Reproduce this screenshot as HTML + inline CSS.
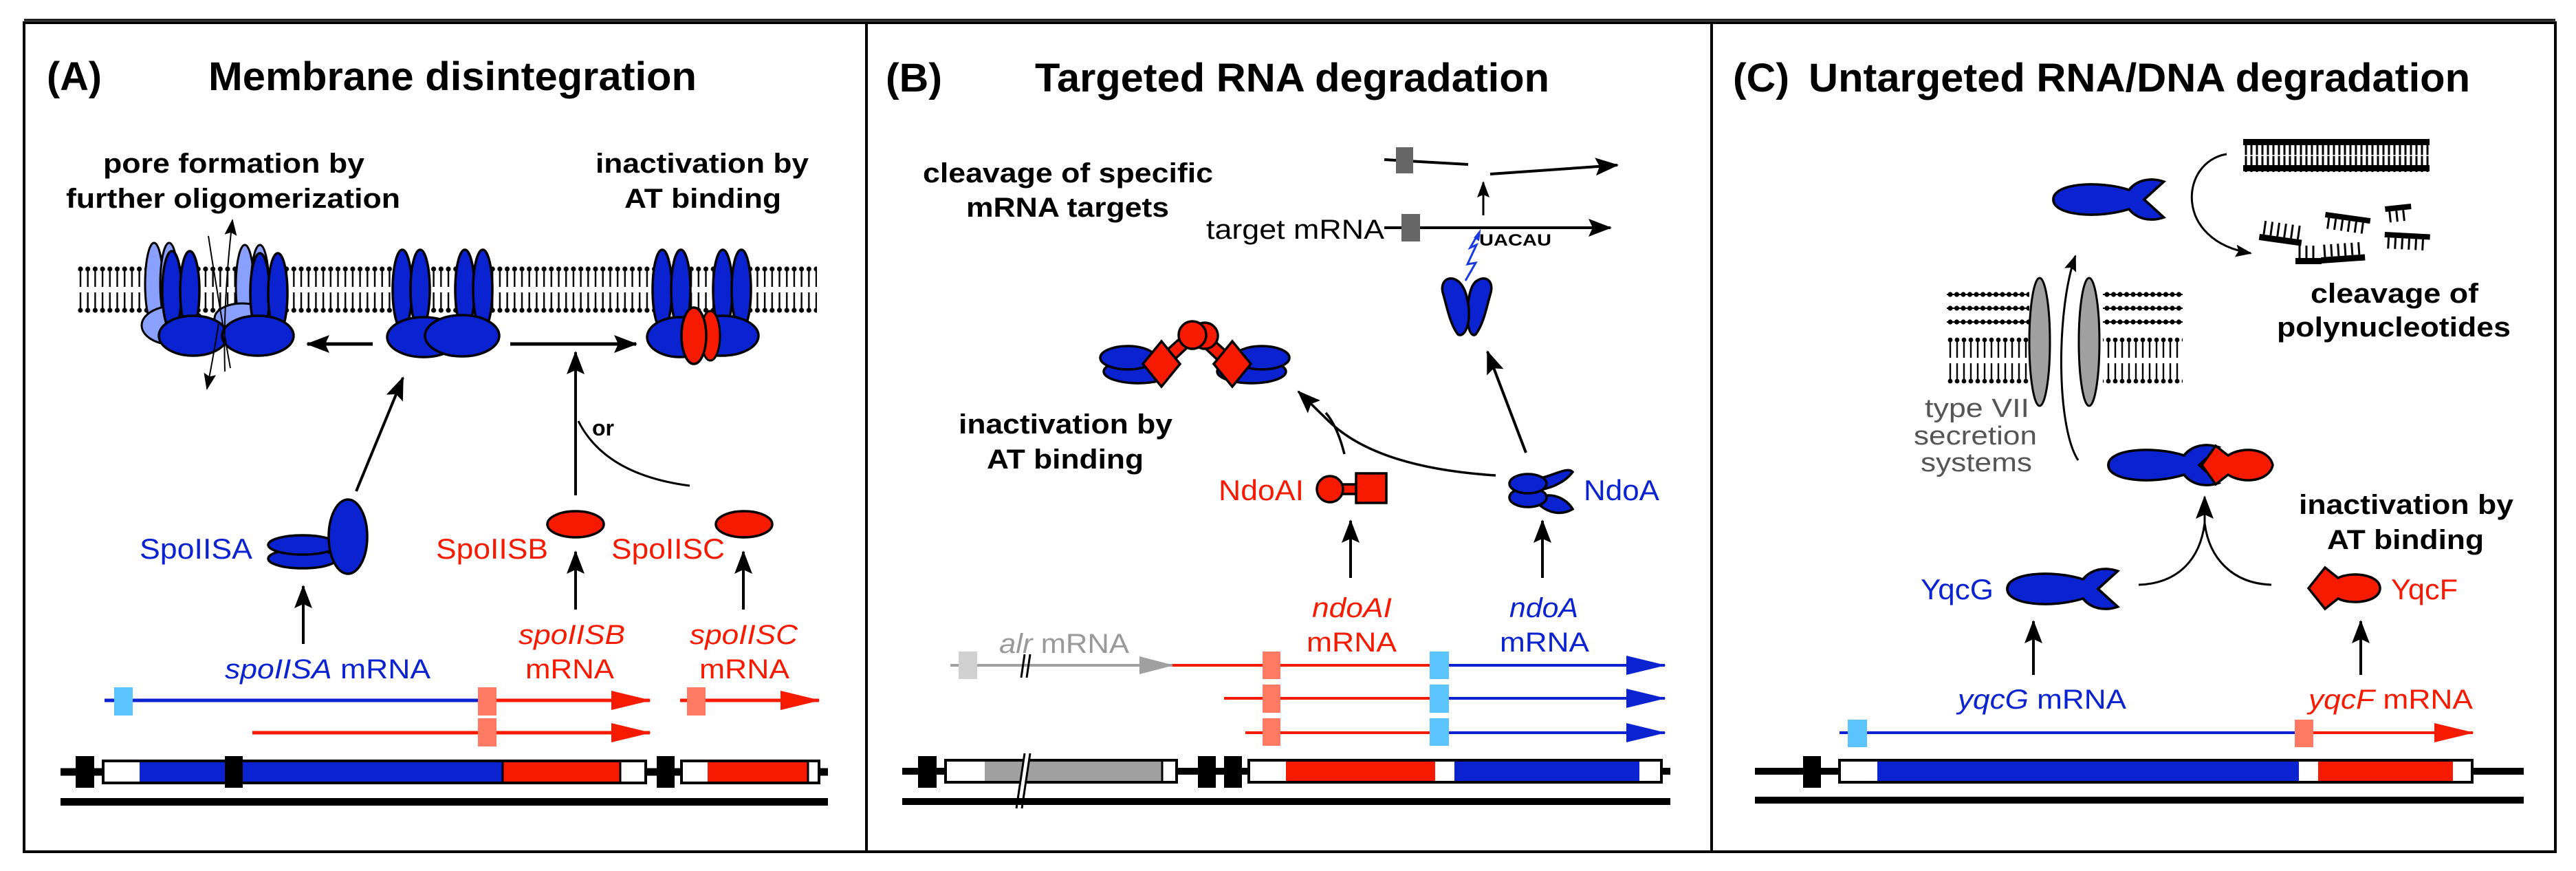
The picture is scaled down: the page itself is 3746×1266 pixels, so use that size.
<!DOCTYPE html>
<html><head><meta charset="utf-8"><style>
html,body{margin:0;padding:0;background:#fff;}
svg{display:block;}
text{font-family:"Liberation Sans",sans-serif;}
</style></head><body>
<svg width="3746" height="1266" viewBox="0 0 3746 1266" xmlns="http://www.w3.org/2000/svg">
<defs>
<marker id="ah" markerUnits="userSpaceOnUse" markerWidth="34" markerHeight="26" refX="32" refY="13" orient="auto"><path d="M0,0 L34,13 L0,26 L6,13 Z" fill="#000"/></marker>
<marker id="ahs" markerUnits="userSpaceOnUse" markerWidth="24" markerHeight="18" refX="22" refY="9" orient="auto"><path d="M0,0 L24,9 L0,18 L4,9 Z" fill="#000"/></marker>
<marker id="ahr" markerUnits="userSpaceOnUse" markerWidth="58" markerHeight="28" refX="56" refY="14" orient="auto"><path d="M0,0 L58,14 L0,28 Z" fill="#f51a00"/></marker>
<marker id="ahb" markerUnits="userSpaceOnUse" markerWidth="58" markerHeight="28" refX="56" refY="14" orient="auto"><path d="M0,0 L58,14 L0,28 Z" fill="#0a22d0"/></marker>
<marker id="ahg" markerUnits="userSpaceOnUse" markerWidth="50" markerHeight="26" refX="48" refY="13" orient="auto"><path d="M0,0 L50,13 L0,26 Z" fill="#a0a0a0"/></marker>
<pattern id="lip" patternUnits="userSpaceOnUse" x="112" y="387" width="10.7" height="68">
<line x1="5" y1="4" x2="5" y2="30" stroke="#000" stroke-width="2.4"/><line x1="5" y1="38" x2="5" y2="64" stroke="#000" stroke-width="2.4"/>
<circle cx="5" cy="4" r="3.6"/><circle cx="5" cy="64" r="3.6"/></pattern>
<pattern id="lipc" patternUnits="userSpaceOnUse" x="2831" y="490" width="10" height="68">
<line x1="5" y1="4" x2="5" y2="30" stroke="#000" stroke-width="2.4"/><line x1="5" y1="38" x2="5" y2="64" stroke="#000" stroke-width="2.4"/>
<circle cx="5" cy="4" r="3.4"/><circle cx="5" cy="64" r="3.4"/></pattern>
<pattern id="lps" patternUnits="userSpaceOnUse" x="2831" y="420" width="9.5" height="60">
<circle cx="5" cy="8" r="3.6"/><circle cx="5" cy="28" r="3.6"/><circle cx="5" cy="48" r="3.6"/>
<line x1="0" y1="8" x2="10" y2="8" stroke="#000" stroke-width="2"/><line x1="0" y1="28" x2="10" y2="28" stroke="#000" stroke-width="2"/><line x1="0" y1="48" x2="10" y2="48" stroke="#000" stroke-width="2"/></pattern>
<pattern id="dna" patternUnits="userSpaceOnUse" x="3262" y="202" width="8" height="48">
<line x1="4" y1="0" x2="4" y2="48" stroke="#000" stroke-width="3"/></pattern>
<g id="fish"><path d="M0,0 C0,-24 60,-28 100,-14 C110,-28 128,-33 146,-26 L120,0 L146,26 C128,33 110,28 100,14 C60,28 0,24 0,0 Z" fill="#0a22d0" stroke="#000" stroke-width="3.5"/></g>
</defs>

<!-- frame -->
<rect x="35" y="33" width="3681" height="1205" fill="none" stroke="#000" stroke-width="4"/>
<line x1="35" y1="29" x2="3716" y2="29" stroke="#000" stroke-width="3"/>
<line x1="1260" y1="33" x2="1260" y2="1238" stroke="#000" stroke-width="4"/>
<line x1="2489" y1="33" x2="2489" y2="1238" stroke="#000" stroke-width="4"/>

<!-- ===== PANEL A ===== -->
<text x="68" y="131" font-size="58" font-weight="bold" textLength="80" lengthAdjust="spacingAndGlyphs">(A)</text>
<text x="303" y="131" font-size="58" font-weight="bold" textLength="710" lengthAdjust="spacingAndGlyphs">Membrane disintegration</text>
<text x="150" y="251" font-size="40" font-weight="bold" textLength="380" lengthAdjust="spacingAndGlyphs">pore formation by</text>
<text x="96" y="302" font-size="40" font-weight="bold" textLength="486" lengthAdjust="spacingAndGlyphs">further oligomerization</text>
<text x="866" y="251" font-size="40" font-weight="bold" textLength="310" lengthAdjust="spacingAndGlyphs">inactivation by</text>
<text x="908" y="302" font-size="40" font-weight="bold" textLength="228" lengthAdjust="spacingAndGlyphs">AT binding</text>

<rect x="112" y="387" width="1076" height="68" fill="url(#lip)"/>
<!-- pore complex -->
<g fill="#8aa0ff" stroke="#000" stroke-width="3">
<ellipse cx="224" cy="413" rx="13" ry="60"/><ellipse cx="246" cy="413" rx="13" ry="60"/>
<ellipse cx="356" cy="416" rx="13" ry="60"/><ellipse cx="378" cy="416" rx="13" ry="60"/>
<ellipse cx="252" cy="473" rx="46" ry="28"/><ellipse cx="352" cy="463" rx="40" ry="22"/>
</g>
<g fill="#0a22d0" stroke="#000" stroke-width="3.5">
<ellipse cx="250" cy="423" rx="14" ry="58"/><ellipse cx="276" cy="423" rx="14" ry="58"/>
<ellipse cx="378" cy="426" rx="14" ry="58"/><ellipse cx="404" cy="426" rx="14" ry="58"/>
<ellipse cx="281" cy="488" rx="50" ry="29"/><ellipse cx="375" cy="488" rx="52" ry="29"/>
</g>
<path d="M303,343 Q318,440 335,535" fill="none" stroke="#000" stroke-width="2"/>
<path d="M327,540 Q324,440 338,320" fill="none" stroke="#000" stroke-width="2" marker-end="url(#ahs)"/>
<path d="M318,470 Q310,520 301,565" fill="none" stroke="#000" stroke-width="2" marker-end="url(#ahs)"/>
<!-- middle dimer -->
<g fill="#0a22d0" stroke="#000" stroke-width="3.5">
<ellipse cx="585" cy="421" rx="14" ry="58"/><ellipse cx="611" cy="421" rx="14" ry="58"/>
<ellipse cx="676" cy="421" rx="14" ry="58"/><ellipse cx="702" cy="421" rx="14" ry="58"/>
<ellipse cx="616" cy="490" rx="53" ry="29"/><ellipse cx="672" cy="488" rx="54" ry="30"/>
</g>
<!-- inactivated dimer -->
<g fill="#0a22d0" stroke="#000" stroke-width="3.5">
<ellipse cx="963" cy="421" rx="14" ry="58"/><ellipse cx="990" cy="421" rx="14" ry="58"/>
<ellipse cx="1051" cy="421" rx="14" ry="58"/><ellipse cx="1078" cy="421" rx="14" ry="58"/>
<ellipse cx="989" cy="490" rx="48" ry="29"/><ellipse cx="1050" cy="488" rx="53" ry="29"/>
</g>
<ellipse cx="1033" cy="488" rx="14" ry="36" fill="#f51a00" stroke="#000" stroke-width="3"/>
<ellipse cx="1009" cy="488" rx="18" ry="41" fill="#f51a00" stroke="#000" stroke-width="3.5"/>
<line x1="542" y1="500" x2="447" y2="500" stroke="#000" stroke-width="5" marker-end="url(#ah)"/>
<line x1="742" y1="500" x2="925" y2="500" stroke="#000" stroke-width="5" marker-end="url(#ah)"/>
<line x1="518" y1="714" x2="586" y2="549" stroke="#000" stroke-width="4" marker-end="url(#ah)"/>
<line x1="837" y1="720" x2="837" y2="512" stroke="#000" stroke-width="4" marker-end="url(#ah)"/>
<path d="M841,612 Q880,690 1003,706" fill="none" stroke="#000" stroke-width="3"/>
<text x="861" y="633" font-size="32" font-weight="bold">or</text>
<!-- proteins -->
<g fill="#0a22d0" stroke="#000" stroke-width="3.5">
<ellipse cx="440" cy="812" rx="50" ry="14"/><ellipse cx="440" cy="792" rx="50" ry="14"/>
<ellipse cx="506" cy="780" rx="28" ry="54"/>
</g>
<text x="203" y="812" font-size="42" fill="#0a22d0" textLength="164" lengthAdjust="spacingAndGlyphs">SpoIISA</text>
<ellipse cx="837" cy="762" rx="41" ry="19" fill="#f51a00" stroke="#000" stroke-width="3.5"/>
<ellipse cx="1082" cy="762" rx="41" ry="19" fill="#f51a00" stroke="#000" stroke-width="3.5"/>
<text x="634" y="812" font-size="42" fill="#f51a00" textLength="163" lengthAdjust="spacingAndGlyphs">SpoIISB</text>
<text x="889" y="812" font-size="42" fill="#f51a00" textLength="165" lengthAdjust="spacingAndGlyphs">SpoIISC</text>
<line x1="441" y1="936" x2="441" y2="852" stroke="#000" stroke-width="4" marker-end="url(#ah)"/>
<line x1="837" y1="886" x2="837" y2="802" stroke="#000" stroke-width="4" marker-end="url(#ah)"/>
<line x1="1081" y1="886" x2="1081" y2="802" stroke="#000" stroke-width="4" marker-end="url(#ah)"/>
<text x="327" y="986" font-size="40" fill="#0a22d0" textLength="299" lengthAdjust="spacingAndGlyphs"><tspan font-style="italic">spoIISA</tspan> mRNA</text>
<text x="754" y="936" font-size="40" fill="#f51a00" font-style="italic" textLength="155" lengthAdjust="spacingAndGlyphs">spoIISB</text>
<text x="764" y="986" font-size="40" fill="#f51a00" textLength="129" lengthAdjust="spacingAndGlyphs">mRNA</text>
<text x="1003" y="936" font-size="40" fill="#f51a00" font-style="italic" textLength="157" lengthAdjust="spacingAndGlyphs">spoIISC</text>
<text x="1017" y="986" font-size="40" fill="#f51a00" textLength="131" lengthAdjust="spacingAndGlyphs">mRNA</text>
<!-- transcripts -->
<line x1="152" y1="1018" x2="698" y2="1018" stroke="#0a22d0" stroke-width="5"/>
<line x1="722" y1="1018" x2="945" y2="1018" stroke="#f51a00" stroke-width="5" marker-end="url(#ahr)"/>
<line x1="367" y1="1065" x2="945" y2="1065" stroke="#f51a00" stroke-width="5" marker-end="url(#ahr)"/>
<line x1="989" y1="1018" x2="1191" y2="1018" stroke="#f51a00" stroke-width="5" marker-end="url(#ahr)"/>
<rect x="166" y="999" width="27" height="41" fill="#5bc4ff"/>
<rect x="695" y="999" width="27" height="41" fill="#ff7a62"/>
<rect x="695" y="1044" width="27" height="41" fill="#ff7a62"/>
<rect x="999" y="999" width="27" height="41" fill="#ff7a62"/>
<!-- gene -->
<line x1="88" y1="1122" x2="1204" y2="1122" stroke="#000" stroke-width="11"/>
<rect x="150" y="1106" width="789" height="32" fill="#fff" stroke="#000" stroke-width="4"/>
<rect x="203" y="1108" width="527" height="28" fill="#0a22d0"/>
<rect x="732" y="1108" width="169" height="28" fill="#f51a00"/>
<line x1="731" y1="1106" x2="731" y2="1138" stroke="#000" stroke-width="3"/>
<line x1="902" y1="1106" x2="902" y2="1138" stroke="#000" stroke-width="3"/>
<rect x="991" y="1106" width="200" height="32" fill="#fff" stroke="#000" stroke-width="4"/>
<rect x="1029" y="1108" width="145" height="28" fill="#f51a00"/>
<line x1="1175" y1="1106" x2="1175" y2="1138" stroke="#000" stroke-width="3"/>
<rect x="110" y="1099" width="27" height="46"/>
<rect x="327" y="1099" width="26" height="46"/>
<rect x="955" y="1099" width="26" height="46"/>
<rect x="88" y="1160" width="1116" height="11"/>

<!-- ===== PANEL B ===== -->
<text x="1288" y="133" font-size="58" font-weight="bold" textLength="82" lengthAdjust="spacingAndGlyphs">(B)</text>
<text x="1505" y="133" font-size="58" font-weight="bold" textLength="748" lengthAdjust="spacingAndGlyphs">Targeted RNA degradation</text>
<text x="1342" y="265" font-size="40" font-weight="bold" textLength="422" lengthAdjust="spacingAndGlyphs">cleavage of specific</text>
<text x="1405" y="315" font-size="40" font-weight="bold" textLength="295" lengthAdjust="spacingAndGlyphs">mRNA targets</text>
<text x="1754" y="347" font-size="40" textLength="259" lengthAdjust="spacingAndGlyphs">target mRNA</text>
<line x1="2013" y1="331" x2="2342" y2="331" stroke="#000" stroke-width="4" marker-end="url(#ah)"/>
<rect x="2038" y="311" width="27" height="40" fill="#666"/>
<text x="2151" y="357" font-size="24" font-weight="bold" textLength="105" lengthAdjust="spacingAndGlyphs">UACAU</text>
<line x1="2013" y1="232" x2="2135" y2="239" stroke="#000" stroke-width="4"/>
<rect x="2030" y="214" width="25" height="38" fill="#666"/>
<line x1="2167" y1="253" x2="2352" y2="240" stroke="#000" stroke-width="4" marker-end="url(#ah)"/>
<line x1="2157" y1="313" x2="2157" y2="265" stroke="#000" stroke-width="3" marker-end="url(#ahs)"/>
<path d="M2131,408 L2146,382 L2134,384 L2147,356 L2138,360 L2150,339" fill="none" stroke="#1a3ae0" stroke-width="3"/>
<path d="M2144,346 L2152,336 L2150,350" fill="#1a3ae0" stroke="#1a3ae0" stroke-width="2"/>
<!-- NdoA V dimer -->
<g fill="#0a22d0" stroke="#000" stroke-width="3.5">
<path d="M2145,410 C2160,398 2172,408 2168,425 C2162,445 2158,470 2146,486 C2138,492 2132,470 2134,450 C2136,430 2138,418 2145,410 Z"/>
<path d="M2122,410 C2108,398 2094,408 2098,425 C2104,445 2108,470 2120,486 C2130,492 2138,470 2136,450 C2134,430 2130,418 2122,410 Z"/>
</g>
<!-- inactivated complex -->
<g fill="#0a22d0" stroke="#000" stroke-width="3.5">
<ellipse cx="1655" cy="540" rx="50" ry="17"/><ellipse cx="1640" cy="520" rx="40" ry="17"/>
<ellipse cx="1820" cy="540" rx="50" ry="17"/><ellipse cx="1835" cy="520" rx="40" ry="17"/>
</g>
<g stroke="#000" stroke-width="3.5" fill="#f51a00">
<path d="M1718,490 L1690,515 L1700,530 L1732,500 Z"/>
<path d="M1760,490 L1788,515 L1778,530 L1746,500 Z"/>
<circle cx="1752" cy="488" r="19"/><circle cx="1734" cy="487" r="20"/>
<path d="M1689,496 L1716,529 L1689,562 L1662,529 Z"/>
<path d="M1792,496 L1819,529 L1792,562 L1765,529 Z"/>
</g>
<text x="1394" y="630" font-size="40" font-weight="bold" textLength="311" lengthAdjust="spacingAndGlyphs">inactivation by</text>
<text x="1435" y="681" font-size="40" font-weight="bold" textLength="228" lengthAdjust="spacingAndGlyphs">AT binding</text>
<line x1="2219" y1="658" x2="2163" y2="511" stroke="#000" stroke-width="4" marker-end="url(#ah)"/>
<path d="M1955,660 Q1945,620 1928,600" fill="none" stroke="#000" stroke-width="3.5"/>
<path d="M2175,691 Q2000,680 1930,610 L1888,569" fill="none" stroke="#000" stroke-width="3.5" marker-end="url(#ah)"/>
<text x="1772" y="727" font-size="42" fill="#f51a00" textLength="124" lengthAdjust="spacingAndGlyphs">NdoAI</text>
<g stroke="#000" stroke-width="3.5" fill="#f51a00">
<rect x="1948" y="704" width="28" height="14"/>
<circle cx="1934" cy="711" r="19"/>
<rect x="1972" y="688" width="44" height="43"/>
</g>
<g fill="#0a22d0" stroke="#000" stroke-width="3.5">
<path d="M2240,722 C2262,715 2280,728 2287,740 C2270,750 2252,745 2240,735 Z"/>
<path d="M2240,695 C2262,690 2280,678 2287,686 C2278,698 2262,708 2240,712 Z"/>
<ellipse cx="2222" cy="723" rx="27" ry="14"/><ellipse cx="2222" cy="703" rx="27" ry="14"/>
</g>
<text x="2303" y="727" font-size="42" fill="#0a22d0" textLength="110" lengthAdjust="spacingAndGlyphs">NdoA</text>
<line x1="1964" y1="840" x2="1964" y2="757" stroke="#000" stroke-width="4" marker-end="url(#ah)"/>
<line x1="2243" y1="840" x2="2243" y2="757" stroke="#000" stroke-width="4" marker-end="url(#ah)"/>
<text x="1908" y="897" font-size="40" fill="#f51a00" font-style="italic" textLength="116" lengthAdjust="spacingAndGlyphs">ndoAI</text>
<text x="1900" y="947" font-size="40" fill="#f51a00" textLength="131" lengthAdjust="spacingAndGlyphs">mRNA</text>
<text x="2195" y="897" font-size="40" fill="#0a22d0" font-style="italic" textLength="100" lengthAdjust="spacingAndGlyphs">ndoA</text>
<text x="2181" y="947" font-size="40" fill="#0a22d0" textLength="130" lengthAdjust="spacingAndGlyphs">mRNA</text>
<text x="1453" y="949" font-size="40" fill="#999" textLength="189" lengthAdjust="spacingAndGlyphs"><tspan font-style="italic">alr</tspan> mRNA</text>
<line x1="1382" y1="967" x2="1705" y2="967" stroke="#a0a0a0" stroke-width="4" marker-end="url(#ahg)"/>
<rect x="1394" y="947" width="27" height="40" fill="#d0d0d0"/>
<line x1="1485" y1="985" x2="1490" y2="951" stroke="#000" stroke-width="3"/>
<line x1="1493" y1="985" x2="1498" y2="951" stroke="#000" stroke-width="3"/>
<line x1="1705" y1="967" x2="2080" y2="967" stroke="#f51a00" stroke-width="4"/>
<line x1="2107" y1="967" x2="2421" y2="967" stroke="#0a22d0" stroke-width="4" marker-end="url(#ahb)"/>
<line x1="1780" y1="1015" x2="2080" y2="1015" stroke="#f51a00" stroke-width="4"/>
<line x1="2107" y1="1015" x2="2421" y2="1015" stroke="#0a22d0" stroke-width="4" marker-end="url(#ahb)"/>
<line x1="1811" y1="1065" x2="2080" y2="1065" stroke="#f51a00" stroke-width="4"/>
<line x1="2107" y1="1065" x2="2421" y2="1065" stroke="#0a22d0" stroke-width="4" marker-end="url(#ahb)"/>
<rect x="1836" y="947" width="26" height="40" fill="#ff7a62"/>
<rect x="1836" y="995" width="26" height="41" fill="#ff7a62"/>
<rect x="1836" y="1044" width="26" height="40" fill="#ff7a62"/>
<rect x="2079" y="947" width="28" height="40" fill="#5bc4ff"/>
<rect x="2079" y="995" width="28" height="41" fill="#5bc4ff"/>
<rect x="2079" y="1044" width="28" height="40" fill="#5bc4ff"/>
<line x1="1312" y1="1121" x2="2429" y2="1121" stroke="#000" stroke-width="10"/>
<rect x="1375" y="1105" width="336" height="32" fill="#fff" stroke="#000" stroke-width="4"/>
<rect x="1432" y="1107" width="257" height="28" fill="#a0a0a0"/>
<line x1="1690" y1="1105" x2="1690" y2="1137" stroke="#000" stroke-width="3"/>
<polygon points="1490,1095 1498,1095 1486,1175 1478,1175" fill="#fff"/>
<line x1="1490" y1="1095" x2="1478" y2="1175" stroke="#000" stroke-width="3"/>
<line x1="1498" y1="1095" x2="1486" y2="1175" stroke="#000" stroke-width="3"/>
<rect x="1816" y="1105" width="600" height="32" fill="#fff" stroke="#000" stroke-width="4"/>
<rect x="1870" y="1107" width="217" height="28" fill="#f51a00"/>
<rect x="2115" y="1107" width="269" height="28" fill="#0a22d0"/>
<rect x="1335" y="1099" width="27" height="46"/>
<rect x="1742" y="1099" width="26" height="46"/>
<rect x="1780" y="1099" width="26" height="46"/>
<rect x="1312" y="1160" width="1117" height="10"/>

<!-- ===== PANEL C ===== -->
<text x="2520" y="133" font-size="58" font-weight="bold" textLength="82" lengthAdjust="spacingAndGlyphs">(C)</text>
<text x="2630" y="133" font-size="58" font-weight="bold" textLength="962" lengthAdjust="spacingAndGlyphs">Untargeted RNA/DNA degradation</text>
<!-- DNA -->
<rect x="3262" y="202" width="271" height="48" fill="url(#dna)"/>
<rect x="3262" y="202" width="271" height="9"/><rect x="3262" y="240" width="271" height="9"/>
<line x1="3262" y1="226" x2="3533" y2="226" stroke="#fff" stroke-width="1.5"/>
<!-- fragments -->
<g stroke="#000" stroke-width="3">
<g transform="translate(3286,340) rotate(8)"><rect x="0" y="0" width="62" height="9" stroke="none"/><path d="M6,0V-20M16,0V-20M26,0V-20M36,0V-20M46,0V-20M56,0V-20"/></g>
<g transform="translate(3338,375)"><rect x="0" y="0" width="38" height="9" stroke="none"/><path d="M6,0V-18M16,0V-18M26,0V-18"/></g>
<g transform="translate(3375,374) rotate(-4)"><rect x="0" y="0" width="64" height="9" stroke="none"/><path d="M6,0V-18M16,0V-18M26,0V-18M36,0V-18M46,0V-18M56,0V-18"/></g>
<g transform="translate(3382,308) rotate(8)"><rect x="0" y="0" width="66" height="8" stroke="none"/><path d="M6,8V24M16,8V24M26,8V24M36,8V24M46,8V24M56,8V24"/></g>
<g transform="translate(3468,300) rotate(-6)"><rect x="0" y="0" width="38" height="8" stroke="none"/><path d="M6,8V24M16,8V24M26,8V24"/></g>
<g transform="translate(3468,337) rotate(3)"><rect x="0" y="0" width="66" height="8" stroke="none"/><path d="M6,8V24M16,8V24M26,8V24M36,8V24M46,8V24M56,8V24"/></g>
</g>
<path d="M3238,224 C3170,235 3160,350 3273,368" fill="none" stroke="#000" stroke-width="3" marker-end="url(#ahs)"/>
<text x="3360" y="440" font-size="40" font-weight="bold" textLength="244" lengthAdjust="spacingAndGlyphs">cleavage of</text>
<text x="3311" y="489" font-size="40" font-weight="bold" textLength="340" lengthAdjust="spacingAndGlyphs">polynucleotides</text>
<use href="#fish" transform="translate(2986,290) scale(1.1,1)"/>
<!-- membranes -->
<rect x="2831" y="420" width="120" height="60" fill="url(#lps)"/>
<rect x="2831" y="490" width="120" height="68" fill="url(#lipc)"/>
<rect x="3058" y="420" width="116" height="60" fill="url(#lps)"/>
<rect x="3058" y="490" width="116" height="68" fill="url(#lipc)"/>
<ellipse cx="2966" cy="497" rx="15" ry="93" fill="#a0a0a0" stroke="#000" stroke-width="3"/>
<ellipse cx="3038" cy="497" rx="15" ry="93" fill="#a0a0a0" stroke="#000" stroke-width="3"/>
<path d="M3022,669 C2990,620 2990,450 3018,372" fill="none" stroke="#000" stroke-width="3" marker-end="url(#ahs)"/>
<text x="2799" y="606" font-size="38" fill="#555" textLength="152" lengthAdjust="spacingAndGlyphs">type VII</text>
<text x="2783" y="646" font-size="38" fill="#555" textLength="179" lengthAdjust="spacingAndGlyphs">secretion</text>
<text x="2793" y="685" font-size="38" fill="#555" textLength="162" lengthAdjust="spacingAndGlyphs">systems</text>
<!-- complex -->
<use href="#fish" transform="translate(3066,676) scale(1.1,1)"/>
<path d="M3202,676 L3222,648 L3240,662 C3262,648 3300,652 3305,676 C3300,700 3262,704 3240,690 L3222,704 Z" fill="#f51a00" stroke="#000" stroke-width="3.5"/>
<text x="3343" y="747" font-size="40" font-weight="bold" textLength="312" lengthAdjust="spacingAndGlyphs">inactivation by</text>
<text x="3384" y="798" font-size="40" font-weight="bold" textLength="228" lengthAdjust="spacingAndGlyphs">AT binding</text>
<use href="#fish" transform="translate(2919,856) scale(1.1,1)"/>
<path d="M3357,855 L3381,825 L3400,840 C3420,830 3461,835 3461,855 C3461,875 3420,880 3400,870 L3381,885 Z" fill="#f51a00" stroke="#000" stroke-width="3.5"/>
<text x="2793" y="871" font-size="42" fill="#0a22d0" textLength="106" lengthAdjust="spacingAndGlyphs">YqcG</text>
<text x="3477" y="871" font-size="42" fill="#f51a00" textLength="97" lengthAdjust="spacingAndGlyphs">YqcF</text>
<path d="M3110,850 C3170,848 3200,810 3206,760" fill="none" stroke="#000" stroke-width="3"/>
<path d="M3303,850 C3245,848 3212,810 3206,760" fill="none" stroke="#000" stroke-width="3"/>
<line x1="3206" y1="770" x2="3206" y2="722" stroke="#000" stroke-width="3" marker-end="url(#ah)"/>
<line x1="2957" y1="981" x2="2957" y2="903" stroke="#000" stroke-width="4" marker-end="url(#ah)"/>
<line x1="3433" y1="981" x2="3433" y2="903" stroke="#000" stroke-width="4" marker-end="url(#ah)"/>
<text x="2847" y="1030" font-size="40" fill="#0a22d0" textLength="245" lengthAdjust="spacingAndGlyphs"><tspan font-style="italic">yqcG</tspan> mRNA</text>
<text x="3357" y="1030" font-size="40" fill="#f51a00" textLength="239" lengthAdjust="spacingAndGlyphs"><tspan font-style="italic">yqcF</tspan> mRNA</text>
<line x1="2675" y1="1065" x2="3337" y2="1065" stroke="#0a22d0" stroke-width="4"/>
<line x1="3364" y1="1065" x2="3596" y2="1065" stroke="#f51a00" stroke-width="4" marker-end="url(#ahr)"/>
<rect x="2687" y="1046" width="28" height="40" fill="#5bc4ff"/>
<rect x="3337" y="1046" width="27" height="40" fill="#ff7a62"/>
<line x1="2552" y1="1121" x2="3670" y2="1121" stroke="#000" stroke-width="10"/>
<rect x="2675" y="1105" width="920" height="32" fill="#fff" stroke="#000" stroke-width="4"/>
<rect x="2730" y="1107" width="613" height="28" fill="#0a22d0"/>
<rect x="3371" y="1107" width="196" height="28" fill="#f51a00"/>
<rect x="2622" y="1099" width="26" height="46"/>
<rect x="2552" y="1158" width="1118" height="10"/>
</svg>
</body></html>
